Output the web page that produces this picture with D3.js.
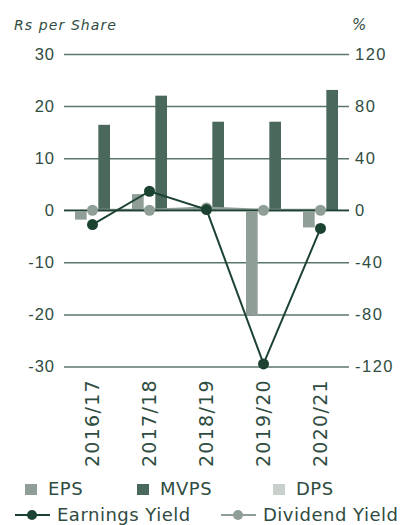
<!DOCTYPE html>
<html>
<head>
<meta charset="utf-8">
<script src="https://cdn.jsdelivr.net/npm/d3@7"></script>
<style>
  html, body { margin: 0; padding: 0; background: #ffffff; }
  svg { display: block; font-family: "DejaVu Sans", sans-serif; }
</style>
</head>
<body>
<svg id="chart" width="405" height="525"></svg>
<script>
// Per-share figures (Rs) and yields (%) by financial year
const years = ["2016/17", "2017/18", "2018/19", "2019/20", "2020/21"];
const eps = [-1.8, 3.1, 0.5, -20.1, -3.3];
const mvps = [16.4, 22.0, 17.0, 17.0, 23.1];
const dps = [0, 0, 0, 0, 0];
const earningsYield = [-11.0, 14.6, 0.5, -118.0, -14.0];
const dividendYield = [0, 0, 1.8, 0, 0];

const leftTicks = [-30, -20, -10, 0, 10, 20, 30];
const rightTicks = [-120, -80, -40, 0, 40, 80, 120];

const colors = {
  eps: "#8f9f97",
  mvps: "#4a685b",
  dps: "#c8d0cc",
  ey: "#1c4232",
  dy: "#8f9f97",
  text: "#2f4c41",
  grid: "#5a7668",
  zero: "#1f4234"
};

const svg = d3.select("#chart");
const plotLeft = 64, plotRight = 349, plotTop = 54, plotBottom = 366.5;

const x = d3.scaleBand().domain(years).range([plotLeft, plotRight]);
const bw = x.bandwidth();
const x1 = d3.scaleBand().domain(["EPS", "DPS", "MVPS"]).range([bw / 2 - 17.5, bw / 2 + 17.5]);
const yL = d3.scaleLinear().domain([-30, 30]).range([plotBottom, plotTop]);
const yR = d3.scaleLinear().domain([-120, 120]).range([plotBottom, plotTop]);

// left axis: labels plus gridlines across the plot
const gl = svg.append("g")
  .attr("transform", `translate(${plotLeft},0)`)
  .call(d3.axisLeft(yL).tickValues(leftTicks).tickSize(-(plotRight - plotLeft)).tickPadding(9)
    .tickFormat(d => d < 0 ? "-" + Math.abs(d) : d));
gl.select(".domain").remove();
gl.selectAll(".tick line").attr("stroke", colors.grid).attr("stroke-width", 1.5);
gl.selectAll(".tick text").attr("fill", colors.text).style("font-size", "16.5px").style("letter-spacing", "1px");

// right axis: labels only
const gr = svg.append("g")
  .attr("transform", `translate(${plotRight},0)`)
  .call(d3.axisRight(yR).tickValues(rightTicks).tickSize(0).tickPadding(6)
    .tickFormat(d => d < 0 ? "-" + Math.abs(d) : d));
gr.select(".domain").remove();
gr.selectAll(".tick text").attr("fill", colors.text).style("font-size", "16.5px").style("letter-spacing", "1.5px");

// axis titles
svg.append("text").attr("x", 14).attr("y", 30)
  .attr("fill", colors.text).style("font-style", "italic").style("font-size", "14px").style("letter-spacing", "1.1px")
  .text("Rs per Share");
svg.append("text").attr("x", 352).attr("y", 30)
  .attr("fill", colors.text).style("font-style", "italic").style("font-size", "15px")
  .text("%");

// grouped bars
const series = [
  { key: "EPS", values: eps, color: colors.eps },
  { key: "DPS", values: dps, color: colors.dps },
  { key: "MVPS", values: mvps, color: colors.mvps }
];
series.forEach(s => {
  svg.append("g").selectAll("rect")
    .data(years.map((yr, i) => ({ yr, v: s.values[i] })))
    .join("rect")
    .attr("x", d => x(d.yr) + x1(s.key))
    .attr("width", x1.bandwidth())
    .attr("y", d => yL(Math.max(0, d.v)))
    .attr("height", d => Math.abs(yL(d.v) - yL(0)))
    .attr("fill", s.color);
});

const cx = d => x(d) + bw / 2;

// dividend yield line
const dyPts = years.map((yr, i) => [cx(yr), yR(dividendYield[i])]);
svg.append("path").attr("d", d3.line()(dyPts))
  .attr("fill", "none").attr("stroke", colors.dy).attr("stroke-width", 3);

// zero baseline
svg.append("line").attr("x1", plotLeft).attr("x2", plotRight)
  .attr("y1", yL(0)).attr("y2", yL(0))
  .attr("stroke", colors.zero).attr("stroke-width", 1.5);

svg.append("g").selectAll("circle").data(dyPts).join("circle")
  .attr("cx", d => d[0]).attr("cy", d => d[1]).attr("r", 5.5).attr("fill", colors.dy);

// earnings yield line
const eyPts = years.map((yr, i) => [cx(yr), yR(earningsYield[i])]);
svg.append("path").attr("d", d3.line()(eyPts))
  .attr("fill", "none").attr("stroke", colors.ey).attr("stroke-width", 2);
svg.append("g").selectAll("circle").data(eyPts).join("circle")
  .attr("cx", d => d[0]).attr("cy", d => d[1]).attr("r", 5.5).attr("fill", colors.ey);

// rotated category labels
svg.append("g").selectAll("text").data(years).join("text")
  .attr("transform", d => `translate(${cx(d)},379) rotate(-90)`)
  .attr("text-anchor", "end")
  .attr("dy", "0.36em")
  .attr("fill", colors.text)
  .style("font-size", "19px").style("letter-spacing", "1.3px")
  .text(d => d);

// legend
const legend = svg.append("g").style("font-size", "18px").style("letter-spacing", "0.5px");
const boxItems = [
  { label: "EPS", color: colors.eps, x: 25 },
  { label: "MVPS", color: colors.mvps, x: 137 },
  { label: "DPS", color: colors.dps, x: 273 }
];
boxItems.forEach(it => {
  legend.append("rect").attr("x", it.x).attr("y", 484).attr("width", 12).attr("height", 11).attr("fill", it.color);
  legend.append("text").attr("x", it.x + 23).attr("y", 495).attr("fill", colors.text).text(it.label);
});
const lineItems = [
  { label: "Earnings Yield", color: colors.ey, x: 15 },
  { label: "Dividend Yield", color: colors.dy, x: 221 }
];
lineItems.forEach(it => {
  legend.append("line").attr("x1", it.x).attr("x2", it.x + 35).attr("y1", 515).attr("y2", 515)
    .attr("stroke", it.color).attr("stroke-width", 2);
  legend.append("circle").attr("cx", it.x + 17).attr("cy", 515).attr("r", 5).attr("fill", it.color);
  legend.append("text").attr("x", it.x + 42).attr("y", 521).attr("fill", colors.text).text(it.label);
});
</script>
</body>
</html>
